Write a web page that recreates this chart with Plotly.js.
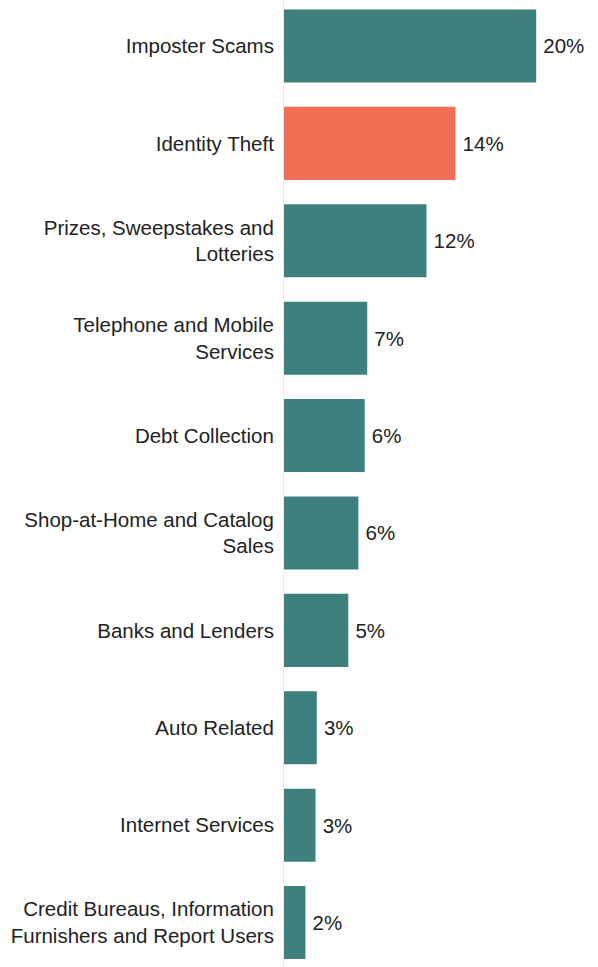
<!DOCTYPE html>
<html>
<head>
<meta charset="utf-8">
<script src="https://cdn.plot.ly/plotly-3.0.1.min.js"></script>
<style>html,body{margin:0;padding:0;background:#fff;}#chart{width:598px;height:967px;}</style>
</head>
<body>
<div id="chart"></div>
<script>
const categories = [
  "Imposter Scams",
  "Identity Theft",
  "Prizes, Sweepstakes and<br>Lotteries",
  "Telephone and Mobile<br>Services",
  "Debt Collection",
  "Shop-at-Home and Catalog<br>Sales",
  "Banks and Lenders",
  "Auto Related",
  "Internet Services",
  "Credit Bureaus, Information<br>Furnishers and Report Users"
];
const values = [20.0, 13.6, 11.3, 6.6, 6.4, 5.9, 5.1, 2.6, 2.5, 1.7];
const labels = ["20%", "14%", "12%", "7%", "6%", "6%", "5%", "3%", "3%", "2%"];
const highlight = "Identity Theft";

const teal = "#3E807D", orange = "#F16F55";
const idx = categories.map((c, i) => i);
const colors = categories.map(c => c === highlight ? orange : teal);
const FONT = "Liberation Sans, Arial, sans-serif";

const trace = {
  type: "bar",
  orientation: "h",
  x: values,
  y: idx,
  width: 0.75,
  marker: {color: colors},
  text: labels,
  texttemplate: "\u2009%{text}",
  textposition: "outside",
  cliponaxis: false,
  textfont: {family: FONT, size: 20.5, color: "#222"},
  hoverinfo: "none"
};

const layout = {
  width: 598, height: 967,
  margin: {l: 284, r: 0, t: 0, b: 0},
  paper_bgcolor: "#fff", plot_bgcolor: "#fff",
  showlegend: false,
  font: {family: FONT, size: 20.5, color: "#222"},
  xaxis: {range: [0, 24.9], showgrid: false, zeroline: false, showticklabels: false, showline: false},
  yaxis: {
    range: [9.456, -0.472],
    tickvals: idx, ticktext: categories,
    showgrid: false, zeroline: false,
    showline: true, linecolor: "#ebebeb", linewidth: 1,
    ticks: "outside", ticklen: 5, tickcolor: "rgba(0,0,0,0)",
    tickfont: {family: FONT, size: 20.5, color: "#222"}
  }
};

Plotly.newPlot("chart", [trace], layout, {displayModeBar: false, staticPlot: true});
</script>
</body>
</html>
